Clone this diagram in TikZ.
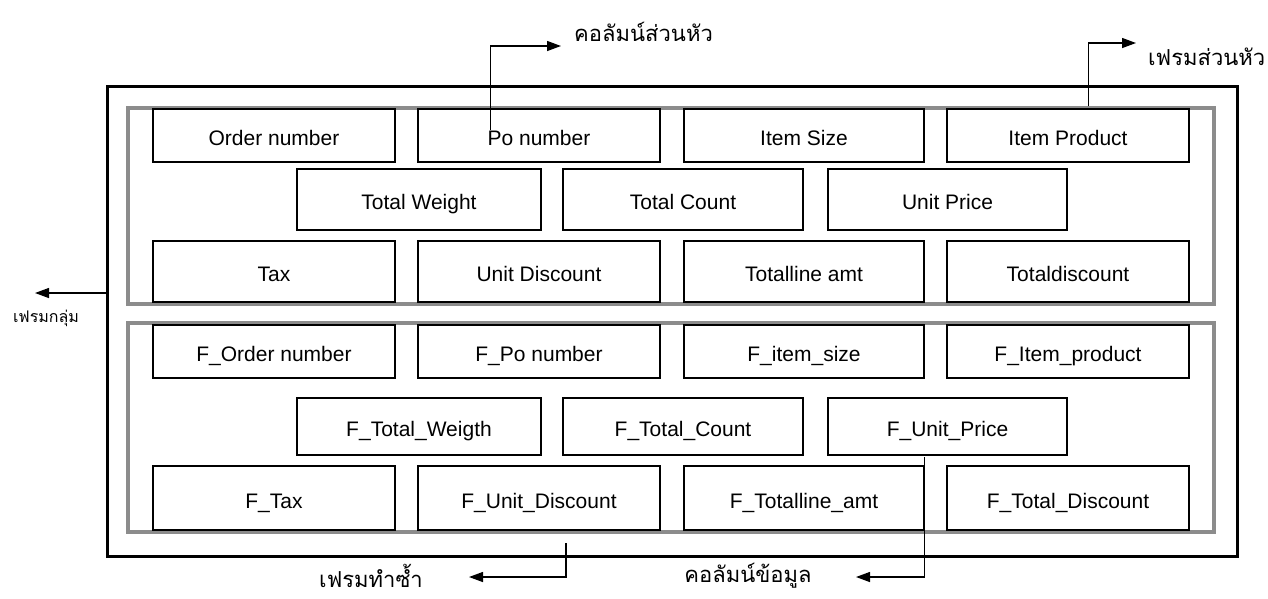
\documentclass[tikz,border=0pt]{standalone}
\usepackage{fontspec}
\setmainfont{Liberation Sans}
\newfontfamily\thaifont[Script=Thai]{Loma}
\usetikzlibrary{arrows.meta,calc}
\begin{document}
\begin{tikzpicture}[x=1pt,y=-1pt,
  fbox/.style={draw=black, line width=1.3pt, fill=white, inner sep=0pt, text height=21pt, text depth=1pt, font=\fontsize{21}{24}\selectfont},
  grpframe/.style={draw=black!45, line width=3.5pt, inner sep=0pt},
  outerframe/.style={draw=black, line width=3pt, inner sep=0pt},
  lbl/.style={font=\thaifont\fontsize{22}{24}\selectfont, inner sep=0pt},
  lblsmall/.style={font=\thaifont\fontsize{16}{18}\selectfont, inner sep=0pt},
  arr/.style={line width=1.3pt, -{Triangle[length=14pt,width=10pt]}}]

\useasboundingbox (0,0) rectangle (1268,598);

% frames
\node[outerframe, minimum width=1130, minimum height=470] (outer) at (672,321) {};
\node[grpframe, minimum width=1086, minimum height=196] (hf) at (671,206) {};
\node[grpframe, minimum width=1086, minimum height=209] (df) at (671,427.5) {};

% header row 1
\node[fbox, minimum width=242, minimum height=53] (on)  at (274,135.5)  {Order number};
\node[fbox, minimum width=242, minimum height=53] (po)  at (539,135.5)  {Po number};
\node[fbox, minimum width=240, minimum height=53] (isz) at (804,135.5)  {Item Size};
\node[fbox, minimum width=242, minimum height=53] (ipr) at (1068,135.5) {Item Product};
% header row 2
\node[fbox, minimum width=244, minimum height=61] (tw) at (419,199.5)   {Total Weight};
\node[fbox, minimum width=240, minimum height=61] (tc) at (683,199.5)   {Total Count};
\node[fbox, minimum width=239, minimum height=61] (up) at (947.5,199.5) {Unit Price};
% header row 3
\node[fbox, minimum width=242, minimum height=61] (tax) at (274,271.5)  {Tax};
\node[fbox, minimum width=242, minimum height=61] (ud)  at (539,271.5)  {Unit Discount};
\node[fbox, minimum width=240, minimum height=61] (tla) at (804,271.5)  {Totalline amt};
\node[fbox, minimum width=242, minimum height=61] (tdc) at (1068,271.5) {Totaldiscount};

% detail row 1
\node[fbox, minimum width=242, minimum height=53] (fon) at (274,351.5)  {F\_Order number};
\node[fbox, minimum width=242, minimum height=53] (fpo) at (539,351.5)  {F\_Po number};
\node[fbox, minimum width=240, minimum height=53] (fis) at (804,351.5)  {F\_item\_size};
\node[fbox, minimum width=242, minimum height=53] (fip) at (1068,351.5) {F\_Item\_product};
% detail row 2
\node[fbox, minimum width=244, minimum height=57] (ftw) at (419,426.5)   {F\_Total\_Weigth};
\node[fbox, minimum width=240, minimum height=57] (ftc) at (683,426.5)   {F\_Total\_Count};
\node[fbox, minimum width=239, minimum height=57] (fup) at (947.5,426.5) {F\_Unit\_Price};
% detail row 3
\node[fbox, minimum width=242, minimum height=64] (ftax) at (274,498)  {F\_Tax};
\node[fbox, minimum width=242, minimum height=64] (fud)  at (539,498)  {F\_Unit\_Discount};
\node[fbox, minimum width=240, minimum height=64] (ftla) at (804,498)  {F\_Totalline\_amt};
\node[fbox, minimum width=242, minimum height=64] (ftd)  at (1068,498) {F\_Total\_Discount};

% labels
\node[lbl, anchor=west] (lcolh) at (574,32) {คอลัมน์ส่วนหัว};
\node[lbl, anchor=west] (lfrh)  at (1148,57) {เฟรมส่วนหัว};
\node[lblsmall] (lgrp) at (46,318) {เฟรมกลุ่ม};
\node[lbl] (lrep) at (371,576) {เฟรมทำซ้ำ};
\node[lbl] (ldat) at (748,576) {คอลัมน์ข้อมูล};

% connectors
\coordinate (a1s) at ($(po.north west)+(73,22)$);
\coordinate (a1e) at (561,46);
\draw[arr] (a1s) |- (a1e);

\coordinate (a2s) at ($(hf.north west)+(962,0)$);
\coordinate (a2e) at (1136,43);
\draw[arr] (a2s) |- (a2e);

\coordinate (a3e) at (35,293);
\draw[arr] (outer.west |- a3e) -- (a3e);

\coordinate (a4s) at (566,543);
\coordinate (a4e) at (469,577);
\draw[arr] (a4s) |- (a4e);

\coordinate (a5s) at ($(ftla.north east)+(0,-8)$);
\coordinate (a5e) at (856,577);
\draw[arr] (a5s) |- (a5e);
\end{tikzpicture}
\end{document}
